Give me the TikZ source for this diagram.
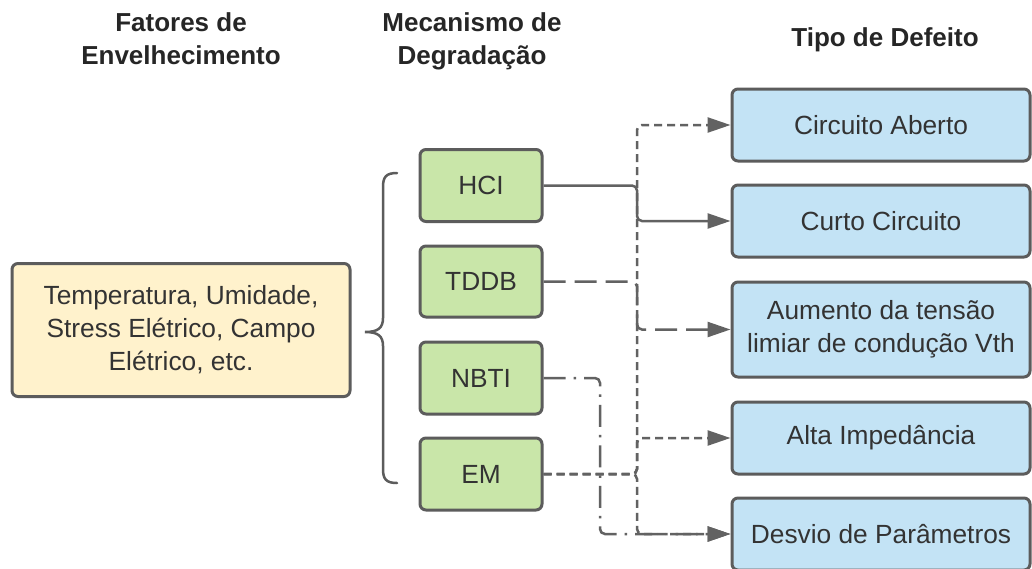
\documentclass[tikz,border=0pt]{standalone}
\usepackage{fontspec}
\setmainfont{Liberation Sans}
\usetikzlibrary{arrows.meta}
\definecolor{edgec}{HTML}{5C5C5C}
\definecolor{greenf}{HTML}{C9E6A9}
\definecolor{bluef}{HTML}{C3E3F5}
\definecolor{yellowf}{HTML}{FFF2CC}
\definecolor{txt}{HTML}{333333}
\definecolor{conn}{HTML}{626262}
\begin{document}
\begin{tikzpicture}[x=1pt,y=-1pt,
  box/.style={draw=edgec, line width=3pt, rounded corners=6pt, text=txt,
    font=\fontsize{26.3}{33}\selectfont, align=center, inner sep=0pt},
  gbox/.style={box, fill=greenf, minimum width=122pt, minimum height=72pt},
  bbox/.style={box, fill=bluef, minimum width=298pt, minimum height=72pt},
  ybox/.style={box, fill=yellowf, minimum width=338pt, minimum height=133pt},
  head/.style={text=black!85, font=\fontsize{26}{33}\selectfont\bfseries, align=center, inner sep=0pt},
  conline/.style={draw=conn, line width=2.5pt, rounded corners=5pt,
    -{Triangle[length=23pt,width=15pt]}},
  shortdash/.style={dash pattern=on 8pt off 5pt},
  longdash/.style={dash pattern=on 22pt off 9pt},
  dashdotline/.style={dash pattern=on 22pt off 8pt on 2.5pt off 8pt}
]
\useasboundingbox (0,0) rectangle (1032,568);
\fill[white] (0,0) rectangle (1032,568);

\node[head] (h1) at (181,38.5) {Fatores de\\Envelhecimento};
\node[head] (h2) at (472,41) {Mecanismo de\\Degradação};
\node[head] (h3) at (885,40) {Tipo de Defeito};

\node[ybox] (fat) at (181,330) {Temperatura, Umidade,\\Stress Elétrico, Campo\\Elétrico, etc.};

\node[gbox] (hci) at (481,185.5) {HCI};
\node[gbox, minimum height=71pt] (tddb) at (481,281.5) {TDDB};
\node[gbox] (nbti) at (481,378) {NBTI};
\node[gbox] (em) at (481,474) {EM};

\node[bbox] (aberto) at (881,125) {Circuito Aberto};
\node[bbox] (curto) at (881,221) {Curto Circuito};
\node[bbox, minimum height=95pt] (aumento) at (881,329.5) {Aumento da tensão\\limiar de condução Vth};
\node[bbox] (alta) at (881,438) {Alta Impedância};
\node[bbox] (desvio) at (881,534) {Desvio de Parâmetros};

% brace
\draw[draw=edgec, line width=2.5pt, line cap=round]
  (397,173) .. controls (386,173) and (383,177) .. (383,187)
  -- (383,318) .. controls (383,328) and (378,332) .. (365,332)
  .. controls (378,332) and (383,336) .. (383,346)
  -- (383,469) .. controls (383,479) and (386,483) .. (397,483);

\coordinate (bus) at (637,0);
\coordinate (bus2) at (600,0);

\draw[conline] (hci.east) -- (hci.east -| bus) |- (curto.west);
\draw[conline, longdash] (tddb.east) -- (tddb.east -| bus) |- (aumento.west);
\draw[conline, dashdotline] (nbti.east) -- (nbti.east -| bus2) |- (desvio.west);
\draw[conline, shortdash] (em.east) -- (em.east -| bus) |- (aberto.west);
\draw[conline, shortdash] (em.east) -- (em.east -| bus) |- (alta.west);
\draw[conline, shortdash] (em.east) -- (em.east -| bus) |- (desvio.west);
\end{tikzpicture}
\end{document}
